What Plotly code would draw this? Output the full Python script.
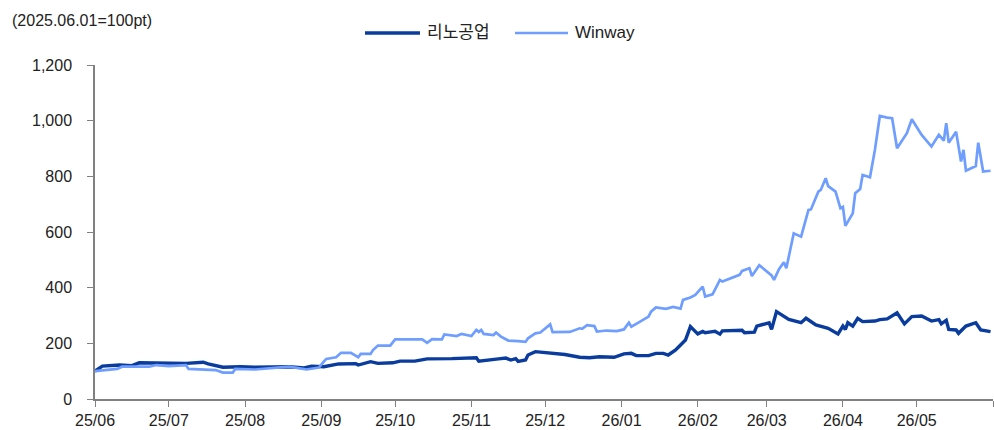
import plotly.graph_objects as go

# 리노공업 (rebased, 2025.06.01 = 100)
rino_dates = ["2025-06-01","2025-06-04","2025-06-11","2025-06-16","2025-06-19","2025-06-26","2025-07-01","2025-07-08",
              "2025-07-15","2025-07-17","2025-07-23","2025-07-30","2025-08-05","2025-08-14","2025-08-19","2025-08-25",
              "2025-08-28","2025-09-02","2025-09-08","2025-09-15","2025-09-16","2025-09-21","2025-09-24","2025-09-30",
              "2025-10-03","2025-10-09","2025-10-14","2025-10-24","2025-11-03","2025-11-04","2025-11-07","2025-11-12",
              "2025-11-15","2025-11-17","2025-11-19","2025-11-20","2025-11-23","2025-11-24","2025-11-27","2025-12-01",
              "2025-12-07","2025-12-09","2025-12-15","2025-12-19","2025-12-23","2025-12-29","2026-01-02","2026-01-05",
              "2026-01-07","2026-01-12","2026-01-15","2026-01-18","2026-01-20","2026-01-23","2026-01-25","2026-01-27",
              "2026-01-29","2026-02-01","2026-02-03","2026-02-04","2026-02-07","2026-02-08","2026-02-10","2026-02-11",
              "2026-02-19","2026-02-20","2026-02-24","2026-02-25","2026-03-02","2026-03-03","2026-03-05","2026-03-08",
              "2026-03-10","2026-03-15","2026-03-17","2026-03-21","2026-03-23","2026-03-26","2026-03-30","2026-04-01",
              "2026-04-02","2026-04-03","2026-04-05","2026-04-07","2026-04-09","2026-04-14","2026-04-16","2026-04-19",
              "2026-04-23","2026-04-26","2026-04-29","2026-05-03","2026-05-07","2026-05-10","2026-05-11","2026-05-13",
              "2026-05-14","2026-05-17","2026-05-18","2026-05-21","2026-05-25","2026-05-27","2026-05-31"]
rino_values = [100,118,122,120,130,130,128,128,
               132,126,114,116,114,116,116,112,
               118,116,126,127,122,134,128,130,
               136,136,144,145,148,136,140,144,
               147,140,145,135,140,158,170,166,
               163,160,150,148,152,150,162,164,
               156,156,164,164,158,176,194,212,
               260,234,243,238,242,243,233,245,
               247,238,240,262,274,250,314,296,
               286,274,290,266,262,254,234,262,
               250,274,262,290,278,280,285,288,
               310,270,296,298,280,285,270,283,
               250,248,236,262,274,248,242]

# Winway (rebased, 2025.06.01 = 100)
winway_dates = ["2025-06-01","2025-06-10","2025-06-12","2025-06-23","2025-06-26","2025-07-01","2025-07-08","2025-07-09",
                "2025-07-20","2025-07-23","2025-07-27","2025-07-28","2025-08-05","2025-08-12","2025-08-19","2025-08-26",
                "2025-08-31","2025-09-02","2025-09-03","2025-09-07","2025-09-09","2025-09-13","2025-09-16","2025-09-17",
                "2025-09-21","2025-09-22","2025-09-24","2025-09-29","2025-10-01","2025-10-12","2025-10-14","2025-10-16",
                "2025-10-20","2025-10-21","2025-10-26","2025-10-28","2025-11-01","2025-11-03","2025-11-04","2025-11-05",
                "2025-11-06","2025-11-10","2025-11-11","2025-11-13","2025-11-16","2025-11-20","2025-11-23","2025-11-24",
                "2025-11-27","2025-11-29","2025-12-03","2025-12-04","2025-12-11","2025-12-15","2025-12-16","2025-12-18",
                "2025-12-21","2025-12-22","2025-12-26","2025-12-30","2026-01-02","2026-01-04","2026-01-05","2026-01-07",
                "2026-01-11","2026-01-12","2026-01-13","2026-01-15","2026-01-19","2026-01-22","2026-01-25","2026-01-26",
                "2026-01-29","2026-01-31","2026-02-03","2026-02-04","2026-02-07","2026-02-08","2026-02-10","2026-02-11",
                "2026-02-18","2026-02-19","2026-02-22","2026-02-23","2026-02-26","2026-03-03","2026-03-04","2026-03-06",
                "2026-03-08","2026-03-09","2026-03-12","2026-03-15","2026-03-18","2026-03-19","2026-03-22","2026-03-23",
                "2026-03-25","2026-03-26","2026-03-29","2026-03-31","2026-04-01","2026-04-02","2026-04-05","2026-04-06",
                "2026-04-08","2026-04-09","2026-04-12","2026-04-14","2026-04-16","2026-04-19","2026-04-21","2026-04-23",
                "2026-04-27","2026-04-29","2026-05-03","2026-05-07","2026-05-10","2026-05-12","2026-05-13","2026-05-14",
                "2026-05-17","2026-05-19","2026-05-20","2026-05-21","2026-05-25","2026-05-26","2026-05-28","2026-05-31"]
winway_values = [100,108,116,116,122,118,122,108,
                 104,95,95,108,106,112,116,106,
                 113,134,144,150,166,166,150,162,
                 162,176,192,192,214,214,202,215,
                 214,232,226,234,226,248,241,248,
                 234,230,239,224,210,208,205,218,
                 236,239,268,240,241,254,252,265,
                 262,242,246,244,250,274,260,270,
                 290,296,314,329,324,331,325,356,
                 365,374,404,368,376,392,428,422,
                 446,460,470,442,481,444,428,466,
                 491,470,595,583,679,681,745,751,
                 793,765,745,685,690,622,667,739,
                 754,805,797,895,1017,1011,1009,901,
                 955,1005,949,907,949,928,991,921,
                 960,853,895,820,837,921,817,820]

tick_vals = ["2025-06-01","2025-07-01","2025-08-01","2025-09-01","2025-10-01","2025-11-01","2025-12-01",
             "2026-01-01","2026-02-01","2026-03-01","2026-04-01","2026-05-01","2026-06-01"]
tick_text = ["25/06","25/07","25/08","25/09","25/10","25/11","25/12",
             "26/01","26/02","26/03","26/04","26/05",""]
y_ticks = [0, 200, 400, 600, 800, 1000, 1200]

series_names = ["리노공업", "Winway"]
series_colors = ["#0A3C9E", "#6F9EFF"]
series_widths = [3.4, 2.7]

FONT = "Liberation Sans, Arial, Noto Sans CJK KR, sans-serif"
W, H = 994, 430
L, R, T, B = 95, 1, 65, 31
PW, PH = W - L - R, H - T - B

def px_to_paper_x(px):
    return (px - L) / PW

def px_to_paper_y(py):
    return (H - B - py) / PH

fig = go.Figure()
fig.add_trace(go.Scatter(x=rino_dates, y=rino_values, mode="lines", name=series_names[0],
                         line=dict(color=series_colors[0], width=series_widths[0]), showlegend=False))
fig.add_trace(go.Scatter(x=winway_dates, y=winway_values, mode="lines", name=series_names[1],
                         line=dict(color=series_colors[1], width=series_widths[1]), showlegend=False))

# manual legend (long line swatches as in the reference)
legend_line_px = [(365, 420), (515, 568)]
legend_y = px_to_paper_y(33)
for (x0, x1), name, col, w in zip(legend_line_px, series_names, series_colors, series_widths):
    fig.add_shape(type="line", xref="paper", yref="paper",
                  x0=px_to_paper_x(x0), x1=px_to_paper_x(x1), y0=legend_y, y1=legend_y,
                  line=dict(color=col, width=w))
    fig.add_annotation(xref="paper", yref="paper", x=px_to_paper_x(x1 + 5), y=legend_y,
                       xanchor="left", yanchor="middle", text=name, showarrow=False,
                       font=dict(family=FONT, size=17, color="#222222"))

fig.update_layout(
    width=W, height=H,
    margin=dict(l=L, r=R, t=T, b=B),
    paper_bgcolor="white", plot_bgcolor="white",
    font=dict(family=FONT, size=16, color="#222222"),
    title=dict(text="(2025.06.01=100pt)", x=12/W, xref="container", xanchor="left",
               y=1-20/H, yref="container", yanchor="middle",
               font=dict(family=FONT, size=16, color="#222222")),
    showlegend=False,
)
fig.update_xaxes(type="date", range=["2025-06-01", "2026-06-01"], tickmode="array",
                 tickvals=tick_vals, ticktext=tick_text, showgrid=False, zeroline=False,
                 showline=True, linecolor="#808080", linewidth=1.5,
                 ticks="outside", ticklen=6, tickcolor="#808080", tickwidth=1.2)
fig.update_yaxes(range=[0, 1200], tickmode="array", tickvals=y_ticks, tickformat=",d",
                 showgrid=False, zeroline=False, showline=True, linecolor="#808080", linewidth=1.5,
                 ticks="outside", ticklen=6, tickcolor="#808080", tickwidth=1.2, ticklabelstandoff=12)

fig.write_html("out.html", config={"displayModeBar": False},
               post_script="document.body.style.margin='0';document.body.style.overflow='hidden';")
